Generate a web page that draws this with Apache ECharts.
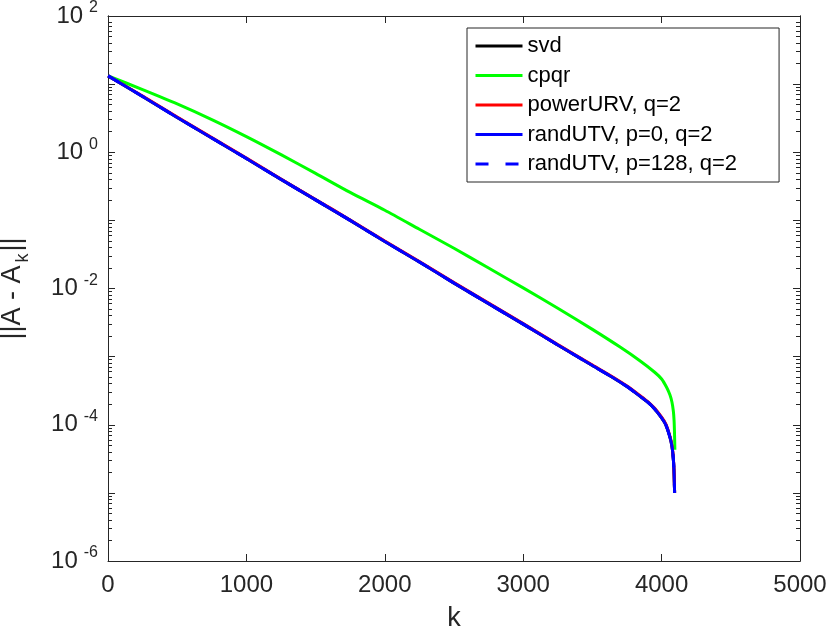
<!DOCTYPE html>
<html>
<head>
<meta charset="utf-8">
<script src="https://cdn.jsdelivr.net/npm/echarts@6/dist/echarts.min.js"></script>
<style>
  html, body { margin: 0; padding: 0; background: #fff; }
  #chart { width: 830px; height: 630px; }
</style>
</head>
<body>
<div id="chart"></div>
<script>
// values
var kLow = [1, 250, 500, 750, 1000, 1250, 1500, 1750, 2000, 2250, 2500, 2750, 3000, 3250, 3500,
            3650, 3750, 3843, 3900, 3950, 4000, 4030, 4060, 4075, 4084, 4089, 4092, 4094];
var svdVals = [13.2, 6.6, 3.24, 1.62, 0.81, 0.40, 0.20, 0.10, 0.049, 0.0245, 0.0120, 0.0060, 0.0030, 0.00148, 7.4e-4,
               4.9e-4, 3.63e-4, 2.63e-4, 2.14e-4, 1.70e-4, 1.26e-4, 1.0e-4, 6.6e-5, 4.8e-5, 3.3e-5, 2.24e-5, 1.41e-5, 1.0e-5];
var powerUrvVals = [13.2, 6.68, 3.29, 1.64, 0.822, 0.406, 0.203, 0.1015, 0.0497, 0.0249, 0.0122, 0.0061, 0.00305, 0.0015, 7.52e-4,
                    4.99e-4, 3.7e-4, 2.69e-4, 2.19e-4, 1.74e-4, 1.29e-4, 1.03e-4, 6.8e-5, 4.95e-5, 3.4e-5, 2.3e-5, 1.43e-5, 1.0e-5];
var randUtvVals = [13.2, 6.6, 3.24, 1.62, 0.81, 0.40, 0.20, 0.10, 0.049, 0.0245, 0.0120, 0.0060, 0.0030, 0.00148, 7.4e-4,
                   4.9e-4, 3.63e-4, 2.63e-4, 2.14e-4, 1.70e-4, 1.26e-4, 1.0e-4, 6.6e-5, 4.8e-5, 3.3e-5, 2.24e-5, 1.41e-5, 1.0e-5];
var randUtv128Vals = [13.2, 6.6, 3.24, 1.62, 0.81, 0.40, 0.20, 0.10, 0.049, 0.0245, 0.0120, 0.0060, 0.0030, 0.00148, 7.4e-4,
                      4.9e-4, 3.63e-4, 2.63e-4, 2.14e-4, 1.70e-4, 1.26e-4, 1.0e-4, 6.6e-5, 4.8e-5, 3.3e-5, 2.24e-5, 1.41e-5, 1.0e-5];

var kCpqr = [1, 250, 500, 750, 1000, 1250, 1500, 1750, 2000, 2250, 2500, 2750, 3000, 3250, 3500,
             3700, 3843, 3950, 4000, 4036, 4060, 4075, 4085, 4090, 4093, 4096];
var cpqrVals = [13.2, 8.32, 5.13, 3.02, 1.70, 0.923, 0.490, 0.257, 0.141, 0.0741, 0.0389, 0.0200, 0.0102, 0.00513, 0.00251,
                0.00138, 8.7e-4, 5.9e-4, 4.7e-4, 3.55e-4, 2.75e-4, 2.14e-4, 1.58e-4, 1.17e-4, 7.9e-5, 4.3e-5];

var seriesNames = ['svd', 'cpqr', 'powerURV, q=2', 'randUTV, p=0, q=2', 'randUTV, p=128, q=2'];
var xTicks = [0, 1000, 2000, 3000, 4000, 5000];
var decades = [-6, -5, -4, -3, -2, -1, 0, 1];
var minorMantissas = [2, 3, 4, 5, 6, 7, 8, 9];

// minor tick positions 2..9 x 10^n, as on a MATLAB log axis
var minorTickVals = [];
decades.forEach(function (d) {
  minorMantissas.forEach(function (m) { minorTickVals.push(m * Math.pow(10, d)); });
});

function pairs(xs, ys) {
  return xs.map(function (x, i) { return [x, ys[i]]; });
}

var axisColor = '#262626';
var font = 'Liberation Sans, Arial, Helvetica, sans-serif';

var chart = echarts.init(document.getElementById('chart'));

function lineSeries(name, data, color, dash) {
  return {
    name: name,
    type: 'line',
    data: data,
    symbol: 'none',
    showSymbol: false,
    smooth: 0.25,
    lineStyle: { color: color, width: 3, type: dash || 'solid' },
    itemStyle: { color: color }
  };
}

var yLabel = {
  fontFamily: font,
  color: axisColor,
  margin: 10,
  formatter: function (v) {
    var e = Math.round(Math.log10(v));
    if (e % 2 !== 0) return '';
    return '{b|10}{s|' + e + '}';
  },
  rich: {
    b: { fontSize: 24, fontFamily: font, color: axisColor },
    s: { fontSize: 16, fontFamily: font, color: axisColor, padding: [0, 0, 16, 6] }
  }
};

// extra axes that only carry the minor ticks (their labels are see-through)
function minorAxis(pos) {
  return {
    type: 'log',
    min: 1e-6,
    max: 1e2,
    position: pos,
    axisLine: { show: true, lineStyle: { color: axisColor, width: 1 } },
    axisTick: { show: true, inside: true, length: 4, customValues: minorTickVals, lineStyle: { color: axisColor } },
    axisLabel: { show: true, customValues: minorTickVals, fontSize: 8, color: 'rgba(255,255,255,0)' },
    splitLine: { show: false }
  };
}

chart.setOption({
  animation: false,
  backgroundColor: '#fff',
  grid: { left: 108, right: 30, top: 16, bottom: 69, containLabel: false, outerBoundsMode: 'none' },
  legend: {
    orient: 'vertical',
    left: 467,
    top: 28,
    data: seriesNames,
    backgroundColor: '#fff',
    borderColor: axisColor,
    borderWidth: 1,
    borderRadius: 0,
    padding: [7, 42, 7, 7],
    itemWidth: 47,
    itemHeight: 14,
    itemGap: 7.5,
    itemStyle: { opacity: 0 },
    lineStyle: { width: 3 },
    textStyle: { fontSize: 22, fontFamily: font, color: '#000', lineHeight: 22 }
  },
  xAxis: [{
    type: 'value',
    min: xTicks[0],
    max: xTicks[xTicks.length - 1],
    interval: 1000,
    name: 'k',
    nameLocation: 'middle',
    nameGap: 44,
    nameTextStyle: { fontSize: 27, fontFamily: font, color: axisColor },
    axisLine: { show: true, lineStyle: { color: axisColor, width: 1 } },
    axisTick: { show: true, inside: true, length: 7, lineStyle: { color: axisColor } },
    axisLabel: {
      fontSize: 24, fontFamily: font, color: axisColor, margin: 12,
      formatter: function (v) { return String(v); }
    },
    splitLine: { show: false }
  }, {
    type: 'value',
    position: 'top',
    min: xTicks[0],
    max: xTicks[xTicks.length - 1],
    interval: 1000,
    axisLine: { show: true, lineStyle: { color: axisColor, width: 1 } },
    axisTick: { show: true, inside: true, length: 7, lineStyle: { color: axisColor } },
    axisLabel: { show: false },
    splitLine: { show: false }
  }],
  yAxis: [{
    type: 'log',
    min: 1e-6,
    max: 1e2,
    interval: 1,
    name: '||A - A{k|k}||',
    nameLocation: 'middle',
    nameGap: 76,
    nameTextStyle: {
      fontSize: 27, fontFamily: font, color: axisColor,
      rich: { k: { fontSize: 18, fontFamily: font, color: axisColor, padding: [20, 2, 0, 3] } }
    },
    axisLine: { show: true, lineStyle: { color: axisColor, width: 1 } },
    axisTick: { show: true, inside: true, length: 7, lineStyle: { color: axisColor } },
    axisLabel: yLabel,
    splitLine: { show: false }
  },
  minorAxis('left'),
  minorAxis('right'),
  {
    type: 'log',
    min: 1e-6,
    max: 1e2,
    interval: 1,
    position: 'right',
    axisLine: { show: true, lineStyle: { color: axisColor, width: 1 } },
    axisTick: { show: true, inside: true, length: 7, lineStyle: { color: axisColor } },
    axisLabel: { show: false },
    splitLine: { show: false }
  }],
  series: [
    lineSeries(seriesNames[0], pairs(kLow, svdVals), '#000000'),
    lineSeries(seriesNames[1], pairs(kCpqr, cpqrVals), '#00ff00'),
    lineSeries(seriesNames[2], pairs(kLow, powerUrvVals), '#ff0000'),
    lineSeries(seriesNames[3], pairs(kLow, randUtvVals), '#0000ff'),
    lineSeries(seriesNames[4], pairs(kLow, randUtv128Vals), '#0000ff', [13, 17])
  ]
});
</script>
</body>
</html>
